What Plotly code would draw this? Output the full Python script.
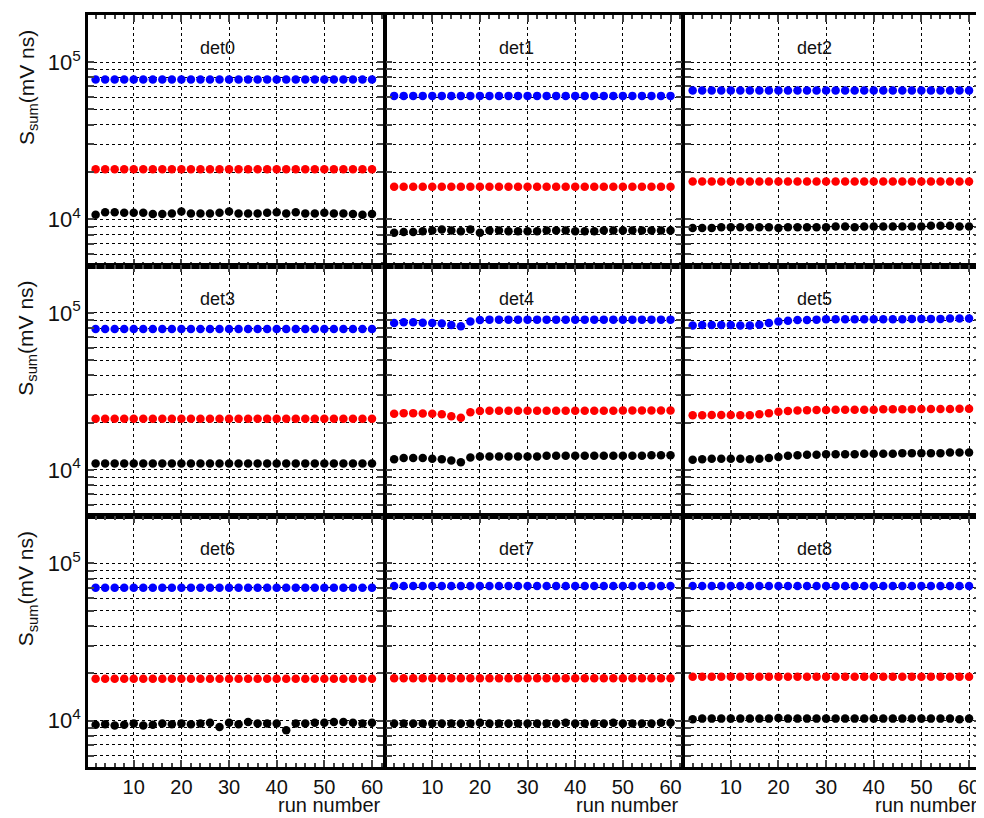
import plotly.graph_objects as go
from plotly.subplots import make_subplots

runs = list(range(2, 61, 2))
dets = ["det0","det1","det2","det3","det4","det5","det6","det7","det8"]

blue = {
 "det0": [77600]*30,
 "det1": [61000]*30,
 "det2": [66000]*30,
 "det3": [79000]*30,
 "det4": [86000,87000,87000,86500,86000,85500,83500,82000,88000,90000,90500,90500,90500,90500,90500,90500,90500,90500,90500,90500,90500,90500,90500,90500,90500,90500,90500,90500,90500,90500],
 "det5": [83000,83500,83500,83500,83500,83000,83000,84000,86000,88000,89000,90000,90000,90500,91000,91000,91000,91000,91000,91000,91000,91000,91000,91500,91500,91500,91500,92000,92000,92000],
 "det6": [70000]*30,
 "det7": [72000]*30,
 "det8": [72000]*30,
}
red = {
 "det0": [20800]*30,
 "det1": [16100]*30,
 "det2": [17400]*30,
 "det3": [21200]*30,
 "det4": [22800,23000,23000,22900,22800,22600,22000,21500,23300,23700,23800,23800,23800,23800,23800,23800,23800,23800,23800,23800,23800,23800,23800,23800,23900,23900,23900,23900,23900,23900],
 "det5": [22300,22300,22400,22400,22400,22300,22300,22600,23000,23500,23700,23900,24000,24100,24100,24200,24200,24200,24200,24200,24300,24300,24300,24300,24400,24400,24400,24400,24500,24500],
 "det6": [18500]*30,
 "det7": [18600]*30,
 "det8": [19000]*30,
}
black = {
 "det0": [10700,11100,11100,11000,11000,11000,10800,10800,10900,11200,10900,10900,10900,11000,11200,10900,10900,10900,11000,11100,10900,11100,10900,10900,11000,10900,10900,10800,10700,10800],
 "det1": [8200,8300,8300,8400,8500,8600,8500,8400,8600,8200,8500,8500,8400,8400,8400,8400,8500,8500,8500,8400,8400,8400,8500,8500,8500,8500,8500,8500,8500,8500],
 "det2": [8800,8800,8800,8900,8900,8900,8900,8900,8900,8800,8900,8900,8900,8900,8900,9000,9000,8900,9000,9000,9000,9000,9000,9000,9000,9100,9100,9100,9000,9000],
 "det3": [11000]*30,
 "det4": [11700,11900,11900,11900,11800,11700,11500,11200,12000,12200,12200,12200,12200,12200,12200,12200,12300,12300,12300,12300,12300,12300,12300,12300,12300,12300,12300,12400,12400,12400],
 "det5": [11600,11700,11800,11800,11800,11800,11700,11800,11900,12100,12300,12400,12500,12500,12600,12600,12600,12600,12700,12700,12700,12700,12800,12800,12800,12800,12800,12900,12900,12900],
 "det6": [9400,9500,9300,9400,9600,9300,9400,9600,9500,9600,9500,9600,9700,9100,9700,9500,9800,9600,9600,9600,8700,9600,9600,9700,9700,9800,9800,9700,9600,9700],
 "det7": [9600,9600,9600,9600,9600,9600,9600,9600,9600,9700,9600,9600,9600,9600,9600,9600,9600,9600,9700,9600,9600,9600,9600,9700,9600,9600,9600,9600,9700,9700],
 "det8": [10200,10300,10300,10300,10300,10300,10300,10300,10300,10400,10300,10300,10300,10300,10300,10300,10300,10300,10300,10300,10300,10300,10300,10300,10300,10300,10300,10300,10200,10300],
}
series = [(blue, "#0000ff"), (red, "#ff0000"), (black, "#000000")]

fig = make_subplots(rows=3, cols=3, horizontal_spacing=0.004, vertical_spacing=0.0)

ytick_vals = [m * 10**e for e in (3, 4, 5) for m in range(1, 10)]
ytick_text = ["10<sup>%d</sup>" % e if m == 1 else "" for e in (3, 4, 5) for m in range(1, 10)]
FONT = "Liberation Sans"

for i, d in enumerate(dets):
    r, c = i // 3 + 1, i % 3 + 1
    for data, col in series:
        fig.add_trace(go.Scatter(x=runs, y=data[d], mode="markers",
                                 marker=dict(color=col, size=8.5), showlegend=False), row=r, col=c)
    fig.update_xaxes(range=[0.4, 62.3], tickvals=[10, 20, 30, 40, 50, 60],
                     showticklabels=(r == 3), ticks="inside", ticklen=7, tickwidth=1.5,
                     minor=dict(dtick=2, tick0=0, ticks="inside", ticklen=4, showgrid=False),
                     showgrid=True, gridcolor="black", griddash="dot", gridwidth=1,
                     showline=True, linewidth=2.5, linecolor="black", mirror="ticks",
                     tickfont=dict(size=20, family=FONT, color="#111"),
                     zeroline=False, row=r, col=c)
    fig.update_yaxes(type="log", range=[3.705, 5.3], tickvals=ytick_vals, ticktext=ytick_text,
                     showticklabels=(c == 1), ticks="inside", ticklen=6, tickwidth=1.5,
                     showgrid=True, gridcolor="black", griddash="dot", gridwidth=1,
                     showline=True, linewidth=2.5, linecolor="black", mirror="ticks",
                     tickfont=dict(size=22, family=FONT, color="#111"),
                     zeroline=False, row=r, col=c)
    xa = fig.get_subplot(r, c).xaxis.domain
    ya = fig.get_subplot(r, c).yaxis.domain
    fig.add_annotation(x=xa[0] + 0.44 * (xa[1] - xa[0]), y=ya[1] - 0.028, xref="paper", yref="paper",
                       text=d, showarrow=False, xanchor="center", yanchor="top",
                       font=dict(size=18, family=FONT, color="#111"))
    if c == 1:
        fig.add_annotation(x=-0.068, y=(ya[0] + ya[1]) / 2 + 0.07, xref="paper", yref="paper",
                           text="S<sub>sum</sub>(mV ns)", textangle=-90, showarrow=False,
                           xanchor="center", yanchor="middle",
                           font=dict(size=21, family=FONT, color="#111"))
    if r == 3:
        fig.add_annotation(x=xa[1], y=-0.051, xref="paper", yref="paper", text="run number",
                           showarrow=False, xanchor="right", yanchor="middle",
                           font=dict(size=20, family=FONT, color="#111"))

fig.update_layout(width=979, height=810, margin=dict(l=80, r=6, t=4, b=51),
                  plot_bgcolor="white", paper_bgcolor="white")
fig.write_html("out.html")
